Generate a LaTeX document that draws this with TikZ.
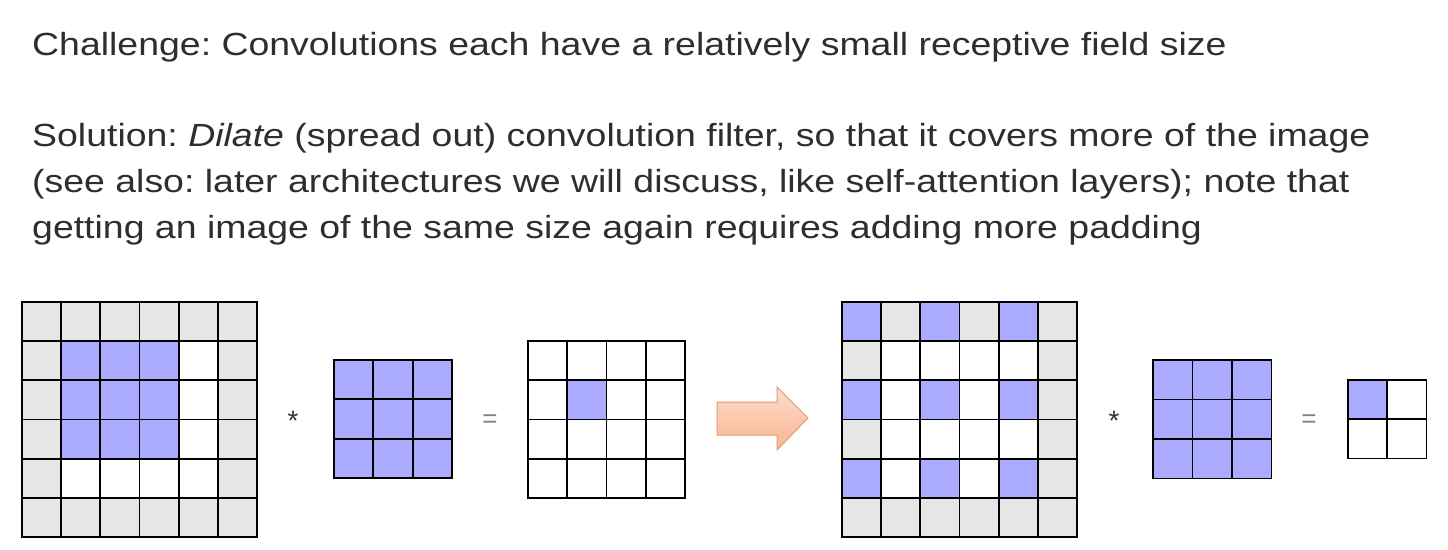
\documentclass[tikz,border=0pt]{standalone}
\usepackage{fontspec}
\setmainfont{Liberation Sans}[FakeStretch=1.17]
\newfontfamily\opfont{Liberation Sans}
\definecolor{cellblue}{HTML}{AAAAFF}
\definecolor{cellgray}{HTML}{E6E6E6}
\definecolor{arrowtop}{HTML}{FDDCCB}
\definecolor{arrowbot}{HTML}{F8B592}
\definecolor{arrowedge}{HTML}{E49A74}
\definecolor{optext}{HTML}{808080}
\frenchspacing
\begin{document}
\begin{tikzpicture}[x=1pt,y=-1pt,
  gridline/.style={line width=1.8pt, black, line cap=rect},
  txt/.style={anchor=base west, inner sep=0pt, font=\fontsize{32}{38}\selectfont, text=black!82},
  opstyle/.style={anchor=base, inner sep=0pt, text=optext}]
\useasboundingbox[fill=white] (0,0) rectangle (1448,549);

% text
\node[txt] (t1) at (32,55) {Challenge: Convolutions each have a relatively small receptive field size};
\node[txt] (t2) at (32,146) {Solution: \textit{Dilate} (spread out) convolution filter, so that it covers more of the image};
\node[txt] (t3) at (32,192) {(see also: later architectures we will discuss, like self-attention layers); note that};
\node[txt] (t4) at (32,238) {getting an image of the same size again requires adding more padding};

% left input grid 6x6
\begin{scope}[shift={(22,302)}, x=39.17pt, y=-39.17pt]
  \fill[cellgray] (0,0) rectangle (6,6);
  \fill[white] (1,1) rectangle (5,5);
  \fill[cellblue] (1,1) rectangle (4,4);
  \foreach \i in {0,...,6} {\draw[gridline] (\i,0) -- (\i,6); \draw[gridline] (0,\i) -- (6,\i);}
\end{scope}

% kernel 1
\begin{scope}[shift={(334,360)}, x=39.33pt, y=-39.33pt]
  \fill[cellblue] (0,0) rectangle (3,3);
  \foreach \i in {0,...,3} {\draw[gridline] (\i,0) -- (\i,3); \draw[gridline] (0,\i) -- (3,\i);}
\end{scope}

% output 4x4
\begin{scope}[shift={(528,341)}, x=39.25pt, y=-39.25pt]
  \fill[cellblue] (1,1) rectangle (2,2);
  \foreach \i in {0,...,4} {\draw[gridline] (\i,0) -- (\i,4); \draw[gridline] (0,\i) -- (4,\i);}
\end{scope}

% arrow
\draw[arrowedge, line width=1pt, top color=arrowtop, bottom color=arrowbot]
  (717,402) -- (777,402) -- (777,387) -- (808,418) -- (777,450) -- (777,435) -- (717,435) -- cycle;

% right input grid 6x6 (dilated)
\begin{scope}[shift={(842,302)}, x=39.17pt, y=-39.17pt]
  \fill[cellgray] (0,0) rectangle (6,6);
  \fill[white] (1,1) rectangle (5,5);
  \foreach \r in {0,2,4} \foreach \c in {0,2,4} {\fill[cellblue] (\c,\r) rectangle ++(1,1);}
  \foreach \i in {0,...,6} {\draw[gridline] (\i,0) -- (\i,6); \draw[gridline] (0,\i) -- (6,\i);}
\end{scope}

% kernel 2
\begin{scope}[shift={(1153,360)}, x=39.5pt, y=-39.5pt]
  \fill[cellblue] (0,0) rectangle (3,3);
  \foreach \i in {0,...,3} {\draw[gridline] (\i,0) -- (\i,3); \draw[gridline] (0,\i) -- (3,\i);}
\end{scope}

% output 2x2
\begin{scope}[shift={(1348,380)}, x=39.25pt, y=-39.25pt]
  \fill[cellblue] (0,0) rectangle (1,1);
  \foreach \i in {0,...,2} {\draw[gridline] (\i,0) -- (\i,2); \draw[gridline] (0,\i) -- (2,\i);}
\end{scope}

% operators
\node[opstyle, text=black!80, font=\opfont\fontsize{28}{28}\selectfont] (s1) at (293,430) {*};
\node[opstyle, font=\opfont\fontsize{26}{26}\selectfont] (e1) at (490,427) {=};
\node[opstyle, text=black!80, font=\opfont\fontsize{28}{28}\selectfont] (s2) at (1114,430) {*};
\node[opstyle, font=\opfont\fontsize{26}{26}\selectfont] (e2) at (1309,427) {=};
\end{tikzpicture}
\end{document}
